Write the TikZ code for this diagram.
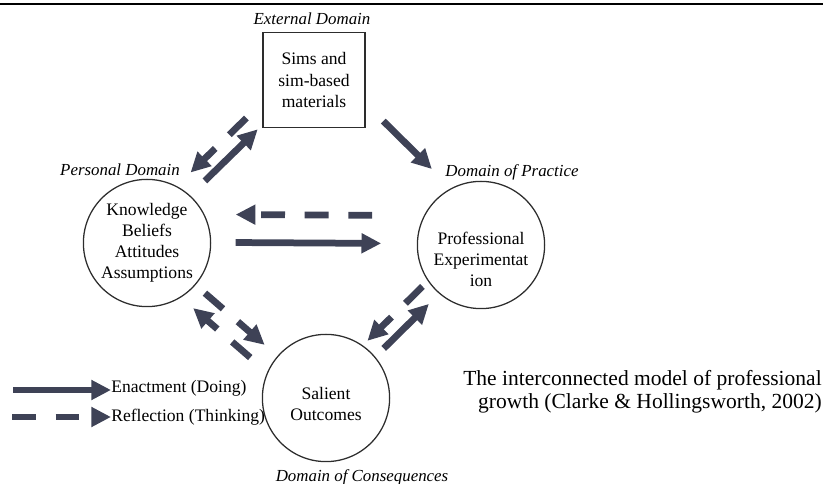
\documentclass[tikz,border=0pt]{standalone}
\usepackage{fontspec}
\setmainfont{Liberation Serif}
\usetikzlibrary{arrows.meta}
\definecolor{arrowgray}{RGB}{62,66,86}
\definecolor{inkgray}{RGB}{45,45,45}

\begin{document}
\begin{tikzpicture}[x=0.025cm, y=-0.025cm, font=\fontsize{12.5}{15}\selectfont,
  domcircle/.style={draw=inkgray, circle, line width=0.9pt, minimum size=3.18cm, inner sep=0pt, align=center},
  simsbox/.style={draw=inkgray, line width=1.1pt, minimum width=2.55cm, minimum height=2.375cm, align=center},
  domlabel/.style={font=\fontsize{12}{14}\selectfont\itshape},
  enact/.style={arrowgray, line width=4.8pt, -{Triangle[length=14pt,width=13.5pt]}},
  reflect/.style={enact, dash pattern=on 17pt off 14pt}]

\useasboundingbox (0,0) rectangle (823,484);
\draw[line width=1.8pt] (0,4) -- (823,4);

\node (sims) at (314,80) [simsbox] {Sims and\\sim-based\\materials};
\node (know) at (147,243) [domcircle] {Knowledge\\Beliefs\\Attitudes\\Assumptions};
\node (prof) at (481,245) [domcircle, label={[align=center, yshift=-10pt]center:Professional\\Experimentat\\ion}] {};
\node (sal) at (326,398) [domcircle, label={[align=center, yshift=-4pt]center:Salient\\Outcomes}] {};

\node (extlbl) at (312,19) [domlabel] {External Domain};
\node (perslbl) at (120,170) [domlabel] {Personal Domain};
\node (praclbl) at (512,172) [domlabel] {Domain of Practice};
\node (conslbl) at (362,477) [domlabel] {Domain of Consequences};

\draw[enact, shorten <=14.6pt, shorten >=4pt, transform canvas={shift={(-2.8,-2.9)}}] (know) -- (sims);
\draw[reflect, shorten <=4.1pt, shorten >=11.5pt, transform canvas={shift={(-14,-14.3)}}] (sims) -- (know);
\draw[enact, shorten <=6.8pt, shorten >=17.1pt, transform canvas={shift={(13.7,-13.9)}}] (sims) -- (prof);

\draw[reflect, shorten <=31.7pt, shorten >=17.4pt, transform canvas={shift={(0,-29)}}] (prof) -- (know);
\draw[enact, shorten <=17.4pt, shorten >=25.3pt, transform canvas={shift={(0,-1)}}] (know) -- (prof);

\draw[reflect, shorten <=8.8pt, shorten >=12pt] (know) -- (sal);
\draw[reflect, shorten <=13.9pt, shorten >=9.4pt, transform canvas={shift={(-12.4,14.4)}}] (sal) -- (know);

\draw[reflect, shorten <=4.7pt, shorten >=3.8pt, transform canvas={shift={(-8.1,-8.3)}}] (prof) -- (sal);
\draw[enact, shorten <=8.3pt, shorten >=10.1pt, transform canvas={shift={(3.7,3.8)}}] (sal) -- (prof);

% legend
\node (enactlbl) at (111,388) [anchor=west, inner sep=0pt] {Enactment (Doing)};
\node (reflectlbl) at (111,417) [anchor=west, inner sep=0pt] {Reflection (Thinking)};
\coordinate (enactstart) at (13,390);
\coordinate (reflectstart) at (12,417);
\draw[enact] (enactstart) -- (enactstart -| enactlbl.west);
\draw[reflect] (reflectstart) -- (reflectstart -| reflectlbl.west);

\node (caption) at (822,392) [anchor=east, align=right, inner sep=0pt, font=\fontsize{15.3}{16.5}\selectfont] {The interconnected model of professional\\growth (Clarke \& Hollingsworth, 2002)};

\end{tikzpicture}
\end{document}
